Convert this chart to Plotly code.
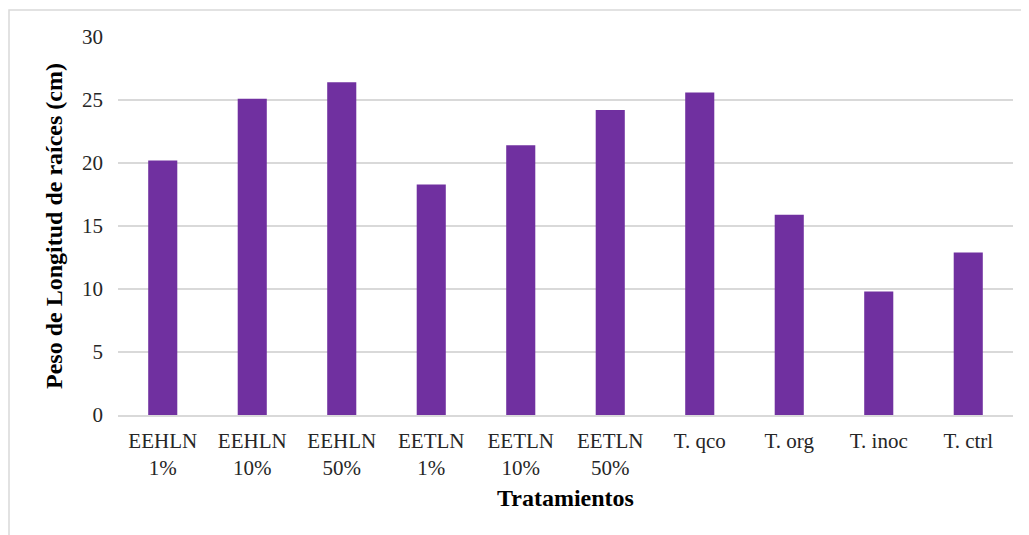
"""Bar chart: root length by treatment."""

import plotly.graph_objects as go

# Data
CATEGORIES = [
    "EEHLN<br>1%", "EEHLN<br>10%", "EEHLN<br>50%",
    "EETLN<br>1%", "EETLN<br>10%", "EETLN<br>50%",
    "T. qco", "T. org", "T. inoc", "T. ctrl",
]
VALUES = [20.2, 25.1, 26.4, 18.3, 21.4, 24.2, 25.6, 15.9, 9.8, 12.9]
Y_TICKS = [0, 5, 10, 15, 20, 25, 30]

_BAR_COLOUR = "#7030a0"
_GRID_COLOUR = "#d9d9d9"
_FONT = "Liberation Serif, Times New Roman, serif"

# page body adds an 8px offset, margins are corrected for that
W, H = 1029, 535
M_L, M_R, M_T, M_B = 110, 24, 29, 128
plot_w = W - M_L - M_R
plot_h = H - M_T - M_B

fig = go.Figure(
    go.Bar(
        x=CATEGORIES,
        y=VALUES,
        marker=dict(color=_BAR_COLOUR, line=dict(width=0)),
        showlegend=False,
    )
)

fig.update_layout(
    width=W,
    height=H,
    margin=dict(l=M_L, r=M_R, t=M_T, b=M_B),
    paper_bgcolor="white",
    plot_bgcolor="white",
    bargap=0.675,
    font=dict(family=_FONT, size=21, color="#262626"),
)

fig.update_yaxes(
    range=[0, 30],
    tickvals=Y_TICKS,
    showgrid=True,
    gridcolor=_GRID_COLOUR,
    gridwidth=1.5,
    zeroline=False,
    showline=False,
    ticks="",
    ticklabelstandoff=14,
    tickfont=dict(size=21, color="#262626"),
    title=dict(
        text="<b>Peso de Longitud de raíces (cm)</b>",
        font=dict(size=24, color="black"),
        standoff=12,
    ),
)

fig.update_xaxes(
    showgrid=False,
    showline=True,
    linecolor=_GRID_COLOUR,
    linewidth=1.5,
    ticks="",
    ticklabelstandoff=6,
    tickfont=dict(size=21, color="#262626"),
    title=dict(
        text="<b>Tratamientos</b>",
        font=dict(size=24, color="black"),
        standoff=10,
    ),
)

# Light chart-area border like the original
fig.add_shape(
    type="rect",
    xref="paper", yref="paper",
    x0=(1 - M_L) / plot_w, x1=(1025 - M_L) / plot_w,
    y0=-(M_B + 10) / plot_h, y1=1 + (M_T - 2) / plot_h,
    line=dict(color=_GRID_COLOUR, width=1.5),
    layer="below",
)

fig.write_html("out.html")
